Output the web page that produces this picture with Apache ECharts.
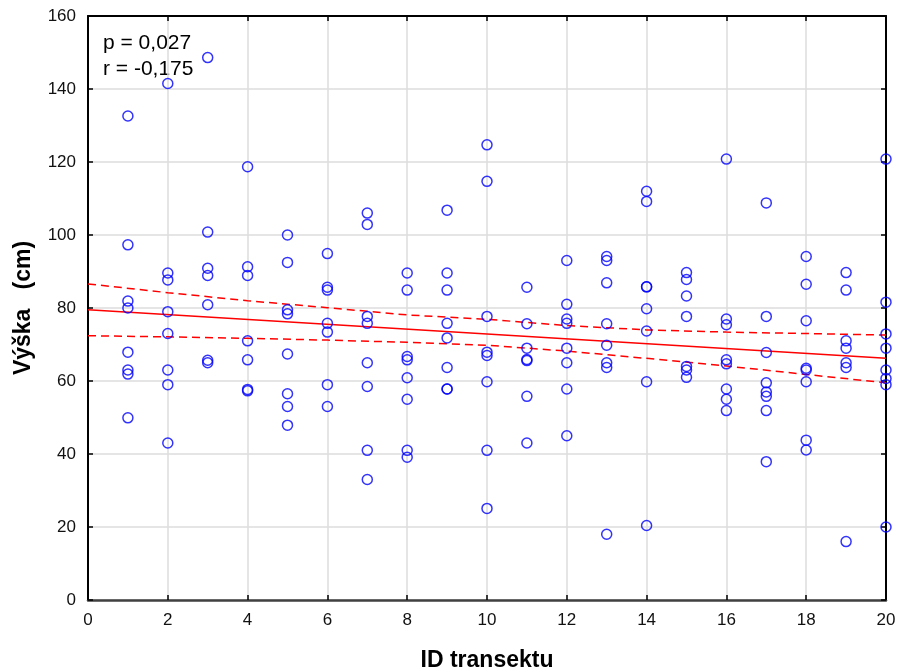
<!DOCTYPE html>
<html lang="cs">
<head>
    <meta charset="utf-8">
    <title>Výška vs. ID transektu</title>
    <script src="https://cdn.jsdelivr.net/npm/echarts@6/dist/echarts.min.js"></script>
    <style>
        html, body { margin: 0; padding: 0; background: #fff; }
        #chart { width: 897px; height: 672px; }
    </style>
</head>
<body>
<div id="chart"></div>
<script type="text/javascript">
  // ID transektu
  const transects = [1, 2, 3, 4, 5, 6, 7, 8, 9, 10, 11, 12, 13, 14, 15, 16, 17, 18, 19, 20];
  // výška (cm) pro každý transekt
  const heights = [
      [132.6, 97.3, 81.9, 80, 67.9, 63, 61.9, 49.9],
      [141.5, 89.6, 87.7, 79, 73, 63, 59, 43],
      [148.6, 100.8, 90.9, 88.9, 80.9, 65.7, 65],
      [118.7, 91.3, 88.9, 71, 65.8, 57.7, 57.3],
      [100, 92.5, 79.5, 78.4, 67.4, 56.5, 53, 47.9],
      [94.9, 85.7, 84.9, 75.8, 73.4, 59, 53],
      [106, 102.9, 77.7, 75.8, 65, 58.5, 41, 33],
      [89.6, 84.9, 66.7, 65.8, 60.9, 55, 41, 39.1],
      [106.8, 89.6, 84.9, 75.8, 71.8, 63.7, 57.8, 57.8],
      [124.7, 114.7, 77.7, 67.9, 67, 59.8, 41, 25.1],
      [85.7, 75.7, 69, 65.9, 65.6, 55.8, 43],
      [93, 81, 77, 75.8, 69, 65, 57.8, 45],
      [94.1, 93, 86.9, 75.7, 69.8, 65, 63.7, 18],
      [112, 109.2, 85.8, 85.8, 79.8, 73.7, 59.8, 20.4],
      [89.7, 87.8, 83.3, 77.7, 64, 63, 61],
      [120.8, 77, 75.4, 65.8, 64.7, 57.8, 55, 51.9],
      [108.8, 77.7, 67.8, 59.5, 57, 55.8, 51.9, 37.9],
      [94.1, 86.5, 76.5, 63.5, 63, 59.8, 43.8, 41.1],
      [89.7, 84.9, 71, 69, 65, 63.7, 16],
      [120.8, 81.6, 72.9, 69, 63, 60.7, 59, 20]
  ];
  // regresní přímka
  const fitX = [0, 20];
  const fitY = [79.5, 66.2];
  // 95% interval spolehlivosti
  const bandX = [0, 2, 4, 6, 8, 10, 12, 14, 16, 18, 20];
  const bandUpper = [86.6, 84.2, 82.0, 80.1, 78.1, 76.9, 75.2, 74.0, 73.4, 73.0, 72.6];
  const bandLower = [72.4, 72.1, 71.7, 71.2, 70.6, 69.8, 68.2, 66.2, 64.1, 61.8, 59.5];

  const points = [];
  transects.forEach((id, i) => {
      heights[i].forEach(h => points.push([id, h]));
  });
  const pairs = (xs, ys) => xs.map((x, i) => [x, ys[i]]);

  const FONT = '"Liberation Sans", Arial, sans-serif';

  const chart = echarts.init(document.getElementById('chart'), null, { renderer: 'canvas' });

  const tickInside = { show: true, inside: true, length: 5, lineStyle: { color: '#000', width: 1.5 } };
  const splitGray = { show: true, lineStyle: { color: '#dcdcdc', width: 1.5 } };
  const nameStyle = { fontFamily: FONT, fontSize: 23, fontWeight: 'bold', color: '#000' };
  const labelStyle = { fontFamily: FONT, fontSize: 17, color: '#111' };

  chart.setOption({
      animation: false,
      backgroundColor: '#fff',
      grid: { left: 88, right: 11, top: 16, bottom: 72, outerBoundsMode: 'none', containLabel: false },
      textStyle: { fontFamily: FONT },
      xAxis: [
          {
              type: 'value', min: 0, max: 20, interval: 2,
              name: 'ID transektu', nameLocation: 'middle', nameGap: 49,
              nameTextStyle: nameStyle,
              axisLine: { show: true, onZero: false, lineStyle: { color: '#404040', width: 2.5 } },
              axisTick: tickInside,
              axisLabel: Object.assign({ margin: 12 }, labelStyle),
              splitLine: splitGray
          },
          {
              type: 'value', position: 'top', min: 0, max: 20, interval: 2,
              axisLine: { show: true, onZero: false, lineStyle: { color: '#000', width: 2 } },
              axisTick: tickInside,
              axisLabel: { show: false },
              splitLine: { show: false }
          }
      ],
      yAxis: [
          {
              type: 'value', min: 0, max: 160, interval: 20,
              name: 'Výška   (cm)', nameLocation: 'middle', nameGap: 53, nameRotate: 90,
              nameTextStyle: nameStyle,
              axisLine: { show: true, onZero: false, lineStyle: { color: '#000', width: 2 } },
              axisTick: tickInside,
              axisLabel: Object.assign({ margin: 12 }, labelStyle),
              splitLine: splitGray
          },
          {
              type: 'value', position: 'right', min: 0, max: 160, interval: 20,
              axisLine: { show: true, onZero: false, lineStyle: { color: '#000', width: 2 } },
              axisTick: tickInside,
              axisLabel: { show: false },
              splitLine: { show: false }
          }
      ],
      graphic: [
          { type: 'text', left: 103, top: 33, style: { text: 'p = 0,027', fontFamily: FONT, fontSize: 21, fill: '#000' } },
          { type: 'text', left: 103, top: 59, style: { text: 'r = -0,175', fontFamily: FONT, fontSize: 21, fill: '#000' } }
      ],
      series: [
          {
              type: 'line', data: pairs(bandX, bandUpper), symbol: 'none', smooth: false,
              lineStyle: { color: '#ff0000', width: 1.5, type: [8, 5] }, z: 3
          },
          {
              type: 'line', data: pairs(bandX, bandLower), symbol: 'none', smooth: false,
              lineStyle: { color: '#ff0000', width: 1.5, type: [8, 5] }, z: 3
          },
          {
              type: 'line', data: pairs(fitX, fitY), symbol: 'none',
              lineStyle: { color: '#ff0000', width: 1.5 }, z: 3
          },
          {
              type: 'scatter', data: points, symbol: 'circle', symbolSize: 10,
              itemStyle: { color: 'transparent', borderColor: '#0000ff', borderWidth: 1.5 },
              z: 4
          }
      ]
  });
</script>
</body>
</html>
